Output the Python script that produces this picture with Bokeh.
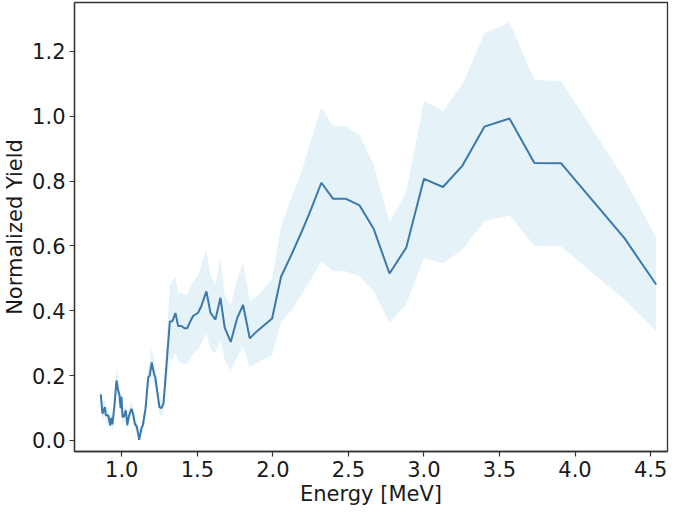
from bokeh.plotting import figure
from bokeh.models import ColumnDataSource, FixedTicker, NumeralTickFormatter, Range1d
from bokeh.embed import file_html
from bokeh.resources import INLINE

energy = [0.861, 0.872, 0.888, 0.894, 0.910, 0.923, 0.930, 0.938, 0.952, 0.965,
          0.976, 0.985, 0.992, 0.998, 1.005, 1.015, 1.027, 1.036, 1.047, 1.064,
          1.075, 1.086, 1.100, 1.115, 1.130, 1.140, 1.157, 1.175, 1.185, 1.198,
          1.214, 1.222, 1.235, 1.249, 1.262, 1.276, 1.318, 1.335, 1.355, 1.373,
          1.395, 1.417, 1.433, 1.452, 1.472, 1.505, 1.527, 1.560, 1.587, 1.620,
          1.653, 1.681, 1.721, 1.765, 1.803, 1.847, 1.897, 1.995, 2.054, 2.120,
          2.190, 2.255, 2.321, 2.398, 2.481, 2.574, 2.668, 2.772, 2.883, 3.000,
          3.126, 3.255, 3.400, 3.566, 3.731, 3.908, 4.327, 4.537]
yield_mean = [0.142, 0.083, 0.103, 0.078, 0.078, 0.047, 0.070, 0.050, 0.110, 0.185,
              0.154, 0.140, 0.100, 0.135, 0.072, 0.075, 0.093, 0.047, 0.075, 0.098,
              0.082, 0.052, 0.042, 0.002, 0.037, 0.048, 0.098, 0.195, 0.200, 0.241,
              0.205, 0.195, 0.150, 0.103, 0.100, 0.113, 0.367, 0.368, 0.393, 0.353,
              0.353, 0.346, 0.346, 0.366, 0.384, 0.394, 0.415, 0.460, 0.394, 0.373,
              0.440, 0.348, 0.304, 0.379, 0.418, 0.315, 0.338, 0.376, 0.505, 0.570,
              0.643, 0.716, 0.795, 0.746, 0.746, 0.725, 0.652, 0.515, 0.595, 0.807,
              0.782, 0.848, 0.968, 0.993, 0.856, 0.855, 0.624, 0.481]
yield_low = [0.120, 0.060, 0.080, 0.055, 0.055, 0.030, 0.050, 0.030, 0.080, 0.150,
             0.120, 0.110, 0.080, 0.110, 0.050, 0.055, 0.070, 0.030, 0.055, 0.075,
             0.060, 0.035, 0.025, 0.000, 0.020, 0.030, 0.075, 0.160, 0.165, 0.200,
             0.170, 0.160, 0.120, 0.080, 0.075, 0.090, 0.256, 0.250, 0.270, 0.245,
             0.240, 0.236, 0.236, 0.250, 0.270, 0.280, 0.300, 0.330, 0.280, 0.270,
             0.310, 0.250, 0.217, 0.260, 0.290, 0.227, 0.240, 0.263, 0.365, 0.400,
             0.450, 0.500, 0.552, 0.523, 0.522, 0.506, 0.460, 0.363, 0.421, 0.562,
             0.547, 0.588, 0.677, 0.695, 0.601, 0.598, 0.435, 0.338]
yield_high = [0.160, 0.110, 0.125, 0.100, 0.100, 0.070, 0.090, 0.075, 0.140, 0.225,
              0.190, 0.170, 0.125, 0.160, 0.095, 0.100, 0.115, 0.070, 0.100, 0.120,
              0.105, 0.075, 0.060, 0.020, 0.055, 0.070, 0.125, 0.230, 0.235, 0.290,
              0.245, 0.230, 0.180, 0.130, 0.125, 0.140, 0.476, 0.490, 0.505, 0.455,
              0.455, 0.450, 0.450, 0.475, 0.490, 0.510, 0.540, 0.590, 0.510, 0.480,
              0.564, 0.450, 0.416, 0.500, 0.545, 0.430, 0.445, 0.500, 0.660, 0.745,
              0.828, 0.930, 1.027, 0.971, 0.969, 0.942, 0.848, 0.672, 0.766, 1.047,
              1.016, 1.098, 1.256, 1.289, 1.113, 1.108, 0.807, 0.626]

x_ticks = [1.0, 1.5, 2.0, 2.5, 3.0, 3.5, 4.0, 4.5]
y_ticks = [0.0, 0.2, 0.4, 0.6, 0.8, 1.0, 1.2]

src = ColumnDataSource(dict(x=energy, y=yield_mean, lo=yield_low, hi=yield_high))

p = figure(width=669, height=508, output_backend="svg", toolbar_location=None,
           x_range=Range1d(0.687, 4.612), y_range=Range1d(-0.034, 1.351),
           min_border_left=72, min_border_right=2, min_border_top=2, min_border_bottom=0)

p.varea(x="x", y1="lo", y2="hi", source=src, fill_color="#add8e6", fill_alpha=0.32)
p.line(x="x", y="y", source=src, line_color="#3b78ab", line_width=2)

p.xgrid.visible = False
p.ygrid.visible = False
p.outline_line_color = "#333333"
p.outline_line_width = 1.3
p.background_fill_color = "white"
p.border_fill_color = "white"

p.xaxis.ticker = FixedTicker(ticks=x_ticks)
p.yaxis.ticker = FixedTicker(ticks=y_ticks)
p.xaxis.formatter = NumeralTickFormatter(format="0.0")
p.yaxis.formatter = NumeralTickFormatter(format="0.0")
p.xaxis.axis_label = "Energy [MeV]"
p.yaxis.axis_label = "Normalized Yield"

for ax in (p.xaxis[0], p.yaxis[0]):
    ax.axis_line_color = "#333333"
    ax.axis_line_width = 1.3
    ax.major_tick_line_color = "#333333"
    ax.major_tick_line_width = 1.2
    ax.major_tick_in = 0
    ax.major_tick_out = 5
    ax.minor_tick_line_color = None
    ax.major_label_text_font = "DejaVu Sans"
    ax.major_label_text_font_size = "21px"
    ax.major_label_text_color = "#1a1a1a"
    ax.axis_label_text_font = "DejaVu Sans"
    ax.axis_label_text_font_size = "21px"
    ax.axis_label_text_font_style = "normal"
    ax.axis_label_text_color = "#1a1a1a"
    ax.major_label_standoff = 4
    ax.axis_label_standoff = 2

out = file_html(p, INLINE)
open("out.html", "w").write(out)
